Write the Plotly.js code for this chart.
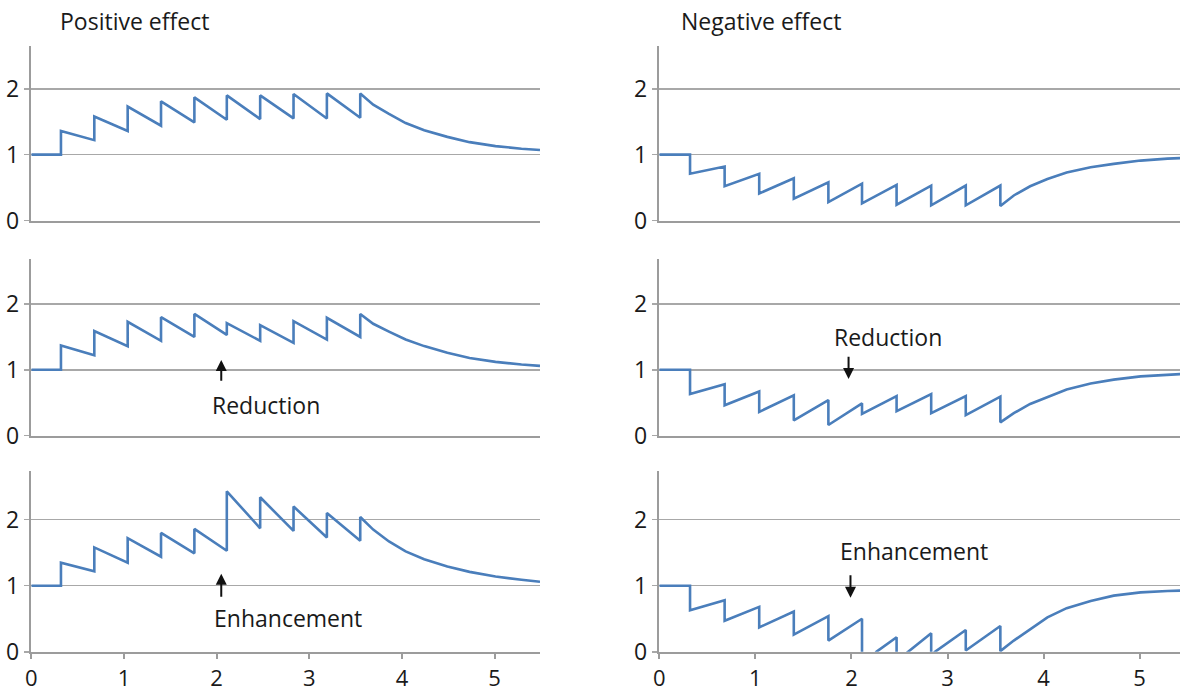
<!DOCTYPE html>
<html>
<head>
<meta charset="utf-8">
<script src="https://cdn.plot.ly/plotly-3.0.1.min.js"></script>
<style>html,body{margin:0;padding:0;background:#fff;}#chart{width:1180px;height:694px;}</style>
</head>
<body>
<div id="chart"></div>
<script>
// ---- data ----
const doseTimes = [0.32, 0.68, 1.04, 1.40, 1.76, 2.11, 2.47, 2.83, 3.19, 3.55];
const tailTimes = [3.69, 3.86, 4.04, 4.24, 4.49, 4.73, 5.01, 5.29, 5.49];
const xTicks = [0, 1, 2, 3, 4, 5];
const yTicks = [0, 1, 2];
const columnTitles = ["Positive effect", "Negative effect"];
const arrowLabels = ["Reduction", "Enhancement"];

// Positive effect, constant dosing
const posConstPre  = [1.00, 1.22, 1.36, 1.44, 1.49, 1.53, 1.54, 1.55, 1.55, 1.56];
const posConstPost = [1.36, 1.58, 1.73, 1.81, 1.87, 1.90, 1.90, 1.92, 1.93, 1.93];
const posConstTail = [1.76, 1.62, 1.48, 1.37, 1.27, 1.19, 1.13, 1.09, 1.07];
// Positive effect, reduction
const posRedPre  = [1.00, 1.22, 1.36, 1.44, 1.50, 1.53, 1.44, 1.41, 1.46, 1.50];
const posRedPost = [1.37, 1.59, 1.73, 1.80, 1.85, 1.71, 1.68, 1.74, 1.79, 1.85];
const posRedTail = [1.70, 1.58, 1.46, 1.36, 1.26, 1.18, 1.12, 1.08, 1.06];
// Positive effect, enhancement
const posEnhPre  = [1.00, 1.22, 1.35, 1.44, 1.49, 1.53, 1.87, 1.83, 1.73, 1.68];
const posEnhPost = [1.35, 1.58, 1.72, 1.80, 1.86, 2.43, 2.34, 2.20, 2.10, 2.04];
const posEnhTail = [1.85, 1.67, 1.52, 1.40, 1.29, 1.21, 1.14, 1.09, 1.06];
// Negative effect, constant dosing
const negConstPre  = [1.00, 0.82, 0.71, 0.64, 0.58, 0.56, 0.54, 0.53, 0.53, 0.53];
const negConstPost = [0.71, 0.52, 0.41, 0.33, 0.28, 0.26, 0.24, 0.23, 0.23, 0.22];
const negConstTail = [0.38, 0.52, 0.63, 0.73, 0.81, 0.86, 0.91, 0.94, 0.95];
// Negative effect, reduction
const negRedPre  = [1.00, 0.78, 0.67, 0.61, 0.54, 0.49, 0.60, 0.63, 0.60, 0.59];
const negRedPost = [0.63, 0.46, 0.36, 0.23, 0.16, 0.33, 0.37, 0.34, 0.31, 0.20];
const negRedTail = [0.34, 0.48, 0.59, 0.70, 0.79, 0.85, 0.90, 0.93, 0.94];
// Negative effect, enhancement (goes below the visible range)
const negEnhPre  = [1.00, 0.78, 0.68, 0.61, 0.54, 0.50, 0.22, 0.28, 0.33, 0.39];
const negEnhPost = [0.63, 0.47, 0.37, 0.26, 0.17, -0.30, -0.14, -0.06, 0.02, 0.01];
const negEnhTail = [0.17, 0.34, 0.52, 0.66, 0.77, 0.85, 0.90, 0.92, 0.93];
const negEnhCrossTimes = [2.26, 2.59, 2.87];
const negEnhCrossVals  = [0.00, 0.00, 0.00];

// ---- build series ----
function buildSeries(pre, post, tail, extraT, extraV) {
  const pts = [[0, pre[0]]];
  doseTimes.forEach((t, i) => { pts.push([t, pre[i]]); pts.push([t, post[i]]); });
  tailTimes.forEach((t, i) => pts.push([t, tail[i]]));
  if (extraT) {
    extraT.forEach((t, i) => {
      let idx = pts.findIndex(p => p[0] > t);
      if (idx < 0) idx = pts.length;
      pts.splice(idx, 0, [t, extraV[i]]);
    });
  }
  return { x: pts.map(p => p[0]), y: pts.map(p => p[1]) };
}

const panels = [
  buildSeries(posConstPre, posConstPost, posConstTail),
  buildSeries(negConstPre, negConstPost, negConstTail),
  buildSeries(posRedPre, posRedPost, posRedTail),
  buildSeries(negRedPre, negRedPost, negRedTail),
  buildSeries(posEnhPre, posEnhPost, posEnhTail),
  buildSeries(negEnhPre, negEnhPost, negEnhTail, negEnhCrossTimes, negEnhCrossVals)
];

const W = 1180, H = 694;
const FONT = "Open Sans, sans-serif";
const blue = "#4a7ebb";
const gridCol = "#a8a8a8";
const lineCol = "#9c9c9c";
const colDomains = [[31.3 / W, 540 / W], [659.3 / W, 1.0]];
const colRanges = [[0, 5.49], [0, 5.42]];
const rowDomains = [[1 - 220.5 / H, 1 - 46 / H], [1 - 435.5 / H, 1 - 258.7 / H], [1 - 651.8 / H, 1 - 470.8 / H]];
const rowRanges = [[0, 2.65], [0, 2.69], [0, 2.74]];

const traces = [];
const layout = {
  width: W, height: H, autosize: false,
  margin: { l: 0, r: 0, t: 0, b: 0, pad: 0 },
  paper_bgcolor: "#ffffff", plot_bgcolor: "#ffffff",
  showlegend: false,
  font: { family: FONT, size: 22, color: "#1a1a1a" },
  annotations: []
};

panels.forEach((s, k) => {
  const row = Math.floor(k / 2), col = k % 2;
  const n = k + 1;
  const xa = n === 1 ? "x" : "x" + n;
  const ya = n === 1 ? "y" : "y" + n;
  traces.push({
    type: "scatter", mode: "lines", x: s.x, y: s.y,
    xaxis: xa, yaxis: ya,
    line: { color: blue, width: 2.6 }, hoverinfo: "skip"
  });
  const bottom = row === 2;
  layout["xaxis" + (n === 1 ? "" : n)] = {
    domain: colDomains[col], range: colRanges[col], anchor: ya,
    showgrid: false, zeroline: false,
    showline: true, linecolor: lineCol, linewidth: 2.5,
    tickvals: xTicks, ticktext: xTicks.map(String),
    ticks: bottom ? "outside" : "", ticklen: 5, tickwidth: 2, tickcolor: lineCol,
    showticklabels: bottom,
    tickfont: { family: FONT, size: 22, color: "#1a1a1a" },
    fixedrange: true
  };
  layout["yaxis" + (n === 1 ? "" : n)] = {
    domain: rowDomains[row], range: rowRanges[row], anchor: xa,
    showgrid: true, gridcolor: gridCol, gridwidth: 1.5,
    zeroline: false,
    showline: true, linecolor: lineCol, linewidth: 2.5,
    tickvals: yTicks, ticktext: yTicks.map(String),
    ticks: "outside", ticklen: 5, tickwidth: 1.5, tickcolor: gridCol,
    tickfont: { family: FONT, size: 23, color: "#1a1a1a" },
    fixedrange: true
  };
});

// column titles
layout.annotations.push({ xref: "paper", yref: "paper", x: 58 / W, y: 1 - 21 / H, xanchor: "left", yanchor: "middle",
  text: columnTitles[0], showarrow: false, font: { family: FONT, size: 23, color: "#1a1a1a" } });
layout.annotations.push({ xref: "paper", yref: "paper", x: 679 / W, y: 1 - 21 / H, xanchor: "left", yanchor: "middle",
  text: columnTitles[1], showarrow: false, font: { family: FONT, size: 23, color: "#1a1a1a" } });

// labels + arrows: [axisIndex, labelX, labelY, arrowX, tailY, tipY, labelText]
const notes = [
  [3, 2.53, 0.47, 2.05, 0.81, 1.15, arrowLabels[0]],
  [4, 2.38, 1.50, 1.97, 1.22, 0.86, arrowLabels[0]],
  [5, 2.77, 0.51, 2.05, 0.81, 1.18, arrowLabels[1]],
  [6, 2.65, 1.52, 1.99, 1.18, 0.82, arrowLabels[1]]
];
notes.forEach(a => {
  const xa = "x" + a[0], ya = "y" + a[0];
  layout.annotations.push({ xref: xa, yref: ya, x: a[1], y: a[2], text: a[6], showarrow: false,
    xanchor: "center", yanchor: "middle", font: { family: FONT, size: 23, color: "#1a1a1a" } });
  layout.annotations.push({ xref: xa, yref: ya, x: a[3], y: a[5], axref: xa, ayref: ya, ax: a[3], ay: a[4],
    text: "", showarrow: true, arrowhead: 2, arrowsize: 1.1, arrowwidth: 2, arrowcolor: "#111", standoff: 0 });
});

Plotly.newPlot("chart", traces, layout, { staticPlot: true, displayModeBar: false });
</script>
</body>
</html>
